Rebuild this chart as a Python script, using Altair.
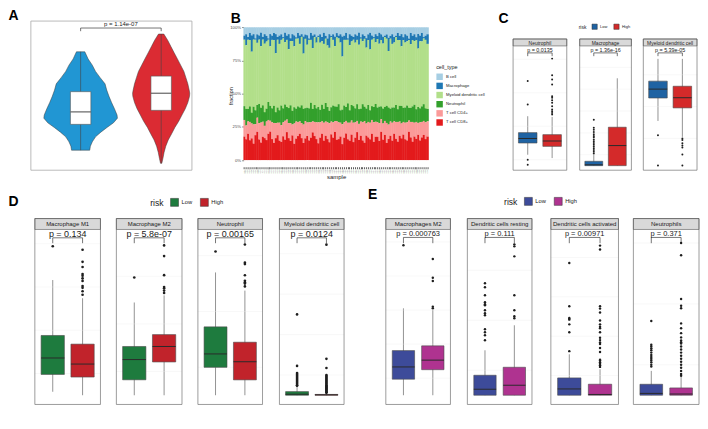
import altair as alt
import pandas as pd

FONT = "Liberation Sans"
RISK = ["Low", "High"]
GRID = "#EBEBEB"
LBL = "#4D4D4D"
INK = "#333333"
FRAME = "#5A5A5A"
ONE = pd.DataFrame({"k": [0]})

# ================= Panel A : ImmuneScore violins =================
A_colors = ["#2196D3", "#DB2B33"]
A_low_y = [2030, 1800, 1600, 1400, 1200, 1000, 800, 600, 400, 200, 0, -100, -250, -400, -550, -700, -860, -1000, -1130]
A_low_hw = [0.052, 0.093, 0.145, 0.185, 0.242, 0.303, 0.324, 0.352, 0.384, 0.42, 0.452, 0.457, 0.408, 0.327, 0.251, 0.185, 0.145, 0.121, 0.113]
A_high_y = [2600, 2400, 2200, 2000, 1800, 1600, 1400, 1200, 1000, 800, 700, 600, 400, 200, 0, -200, -400, -600, -800, -1000, -1200, -1400, -1550]
A_high_hw = [0.033, 0.081, 0.121, 0.161, 0.202, 0.242, 0.282, 0.307, 0.331, 0.348, 0.355, 0.352, 0.331, 0.299, 0.258, 0.218, 0.17, 0.13, 0.088, 0.057, 0.036, 0.021, 0.008]
A_lo = [-1130, -1550]
A_q1 = [-300, 150]
A_med = [100, 700]
A_q3 = [750, 1250]
A_hi = [2030, 2600]
A_ticks = [-1000, 0, 1000, 2000, 3000]
A_p = "p = 1.14e-07"
A_bracket_y = [2793, 2691]
A_p_y = 2861

# ================= Panel B : stacked fractions =================
B_cell_types = ["B cell", "Macrophage", "Myeloid dendritic cell", "Neutrophil", "T cell CD4+", "T cell CD8+"]
B_colors = ["#A6CEE3", "#1F78B4", "#B2DF8A", "#33A02C", "#FB9A99", "#E31A1C"]
B_stack_pos = [5, 4, 3, 2, 1, 0]
B_cd8 = [17,15,19,14,16,12,18,20,15,13,17,16,14,19,21,15,12,16,18,14,
         13,17,15,20,16,14,18,12,15,17,19,16,13,15,18,14,16,20,17,15,
         12,16,19,14,17,15,13,18,16,21,14,15,17,12,16,19,15,14,18,13,
         16,20,15,17,14,12,18,16,15,19,13,17,16,14,20,15,18,12,16,17,
         14,19,15,13,17,16,18,15,14,20,16,13,17,15,19,14,16,18,15,17]
B_cd4 = [12,10,9,13,11,14,8,10,12,15,11,9,13,10,8,12,14,11,9,13,
         12,10,14,9,11,13,8,15,12,10,9,11,14,12,10,13,11,8,10,12,
         15,11,9,13,10,12,14,9,11,8,13,12,10,15,11,9,12,13,10,14,
         11,8,12,10,13,15,9,11,12,10,14,11,10,13,9,12,10,14,11,10,
         13,9,12,14,10,11,9,12,13,8,11,14,10,12,9,13,11,10,12,11]
B_neut = [10,12,9,11,8,13,10,9,14,11,12,10,9,13,11,10,12,8,11,9,
          14,10,12,9,11,13,10,12,9,11,10,13,12,9,11,10,14,9,12,10,
          11,9,12,10,13,11,9,10,12,11,10,13,9,11,12,10,14,9,11,12,
          10,12,11,9,13,10,11,12,9,10,11,13,10,12,9,11,10,12,13,9,
          11,10,12,9,11,13,10,11,12,9,10,11,13,9,12,10,11,12,10,9]
B_mdc = [48,46,50,47,45,49,51,44,47,46,48,50,47,45,44,49,46,43,49,48,
         47,50,46,48,43,47,51,45,49,48,46,50,42,48,47,49,45,44,48,47,
         50,48,46,47,45,44,46,49,47,45,48,47,49,40,47,48,46,47,45,48,
         47,46,48,49,45,47,45,46,44,48,49,45,47,46,47,48,50,47,43,49,
         46,47,48,49,46,44,48,47,46,48,45,47,46,49,44,48,46,47,49,47]
B_macro = [3,8,2,5,12,4,1,6,3,10,2,7,4,1,9,3,5,14,2,6,
           4,1,7,3,11,2,5,8,1,4,6,2,13,3,7,1,5,9,2,4,
           1,6,3,8,2,5,10,1,4,7,3,2,6,15,3,5,1,8,4,2,
           6,3,9,1,5,2,7,4,12,3,1,6,2,8,4,5,1,3,10,2,
           7,4,1,5,3,9,2,6,4,1,8,3,5,2,11,4,6,1,3,7]
B_bcell = [6,5,7,4,6,5,8,5,6,4,7,5,6,8,5,6,4,5,7,6,
           5,7,4,6,5,8,5,6,7,4,6,5,7,5,6,8,4,6,5,7,
           6,5,7,4,6,8,5,6,5,7,4,6,5,7,6,4,8,5,6,7,
           5,6,4,7,5,6,8,5,4,6,7,5,6,4,5,7,6,5,8,6,
           5,7,6,4,6,5,7,5,6,8,4,6,5,7,5,6,4,7,6,5]
B_samples = [f"S{i:03d}" for i in range(1, len(B_cd8) + 1)]

# ================= Panel C : TIMER =================
C_colors = ["#1F63A3", "#D42A2A"]
C_names = ["Neutrophil", "Macrophage", "Myeloid dendritic cell"]
C_low = [[0.065, 0.100, 0.1135, 0.131, 0.180], [0.0, 0.0, 0.002, 0.010, 0.025], [0.405, 0.477, 0.505, 0.530, 0.600]]
C_high = [[0.055, 0.090, 0.106, 0.125, 0.178], [0.0, 0.0, 0.046, 0.088, 0.200], [0.355, 0.446, 0.478, 0.514, 0.600]]
C_low_out = [[0.285, 0.215, 0.050, 0.035],
             [0.105, 0.087, 0.082, 0.077, 0.072, 0.068, 0.065, 0.060, 0.056, 0.052, 0.048, 0.044, 0.040, 0.036, 0.032, 0.028],
             [0.360, 0.265]]
C_high_out = [[0.352, 0.302, 0.290, 0.275, 0.240, 0.235, 0.228, 0.220, 0.210, 0.200, 0.195, 0.190, 0.185],
              [],
              [0.350, 0.345, 0.335, 0.328, 0.322, 0.300, 0.265]]
C_p = ["p = 0.0135", "p = 1.36e-16", "p = 5.39e-05"]
C_ticks = [[0.1, 0.2, 0.3], [0.0, 0.05, 0.10, 0.15, 0.20], [0.3, 0.4, 0.5, 0.6]]
C_fmt = [".1f", ".2f", ".1f"]
C_range = [[0.0188, 0.3899], [-0.0104, 0.274], [0.2503, 0.6406]]

# ================= Panel D : quanTIseq =================
D_colors = ["#1E7B3E", "#C1232B"]
D_names = ["Macrophage M1", "Macrophage M2", "Neutrophil", "Myeloid dendritic cell"]
D_low = [[0.02, 0.12, 0.215, 0.345, 0.665], [0.0, 0.065, 0.15, 0.205, 0.39], [0.0, 0.10, 0.148, 0.245, 0.44], [0.0, 0.0, 0.005, 0.018, 0.045]]
D_high = [[0.0, 0.105, 0.18, 0.295, 0.56], [0.0, 0.14, 0.205, 0.255, 0.42], [0.0, 0.055, 0.12, 0.19, 0.375], [0.0, 0.0, 0.002, 0.004, 0.010]]
D_low_out = [[0.86], [0.495], [0.515],
             [0.40, 0.145, 0.11, 0.105, 0.10, 0.095, 0.09, 0.085, 0.08, 0.075, 0.07, 0.065, 0.06, 0.055, 0.05, 0.047]]
D_high_out = [[0.84, 0.77, 0.74, 0.70, 0.69, 0.675, 0.66, 0.63, 0.62, 0.60, 0.58],
              [0.63, 0.585, 0.505, 0.455, 0.45, 0.44, 0.43],
              [0.54, 0.475, 0.47, 0.43, 0.41, 0.405, 0.40, 0.39],
              [0.745, 0.18, 0.135, 0.10, 0.095, 0.09, 0.085, 0.08, 0.075, 0.07, 0.065, 0.06, 0.055, 0.05, 0.045, 0.04, 0.035, 0.03, 0.025, 0.02, 0.015, 0.012]]
D_p = ["p = 0.134", "p = 5.8e-07", "p = 0.00165", "p = 0.0124"]
D_ticks = [[0, 0.25, 0.5, 0.75], [0, 0.2, 0.4, 0.6], [0, 0.2, 0.4], [0, 0.2, 0.4, 0.6, 0.8]]
D_fmt = [".2f", ".1f", ".1f", ".1f"]
D_range = [[-0.0533, 0.957], [-0.0387, 0.697], [-0.0331, 0.594], [-0.0456, 0.820]]

# ================= Panel E : CIBERSORT =================
E_colors = ["#3D4B9A", "#AF3390"]
E_names = ["Macrophages M2", "Dendritic cells resting", "Dendritic cells activated", "Neutrophils"]
E_low = [[0.0, 0.047, 0.083, 0.131, 0.255], [0.0, 0.0, 0.006, 0.020, 0.045], [0.0, 0.0, 0.008, 0.022, 0.052], [0.0, 0.0, 0.003, 0.018, 0.040]]
E_high = [[0.0, 0.075, 0.103, 0.145, 0.250], [0.0, 0.0, 0.010, 0.028, 0.070], [0.0, 0.0, 0.001, 0.014, 0.033], [0.0, 0.0, 0.002, 0.012, 0.030]]
E_low_out = [[0.44],
             [0.112, 0.108, 0.100, 0.093, 0.091, 0.090, 0.085, 0.082, 0.080, 0.066, 0.063, 0.060, 0.055],
             [0.168, 0.113, 0.098, 0.097, 0.096, 0.090, 0.080, 0.056],
             [0.122, 0.083, 0.080, 0.077, 0.074, 0.070, 0.066, 0.063, 0.060, 0.057, 0.054, 0.050, 0.047]]
E_high_out = [[0.40, 0.345, 0.335, 0.26, 0.255],
              [0.151, 0.149, 0.139, 0.100, 0.085, 0.079, 0.077],
              [0.190, 0.185, 0.113, 0.110, 0.105, 0.095, 0.090, 0.087, 0.085, 0.080, 0.073, 0.070, 0.067, 0.065, 0.060, 0.055, 0.045, 0.044, 0.042, 0.040, 0.038, 0.036],
              [0.25, 0.23, 0.158, 0.147, 0.143, 0.118, 0.110, 0.102, 0.095, 0.090, 0.087, 0.085, 0.080, 0.075, 0.070, 0.065, 0.060, 0.055, 0.050, 0.045, 0.040, 0.035, 0.032]]
E_p = ["p = 0.000763", "p = 0.111", "p = 0.00971", "p = 0.371"]
E_ticks = [[0, 0.1, 0.2, 0.3, 0.4], [0, 0.05, 0.10, 0.15], [0, 0.05, 0.10, 0.15, 0.20], [0, 0.1, 0.2]]
E_fmt = [".1f", ".2f", ".2f", ".1f"]
E_range = [[-0.0271, 0.4865], [-0.00923, 0.1659], [-0.0117, 0.2105], [-0.01516, 0.2723]]


# ---------------- helpers ----------------
def deco_rect(x0, x1, y0, y1, **kw):
    return alt.Chart(ONE).mark_rect(**kw).encode(
        x=alt.value(x0), x2=alt.value(x1), y=alt.value(y0), y2=alt.value(y1))


def label_text(txt, x, y, **kw):
    return alt.Chart(ONE).mark_text(text=txt, **kw).encode(x=alt.value(x), y=alt.value(y))


def spacer(w, h):
    return alt.Chart(ONE).mark_point(opacity=0).properties(width=w, height=h)


def minor_breaks(ticks, lo, hi):
    step = ticks[1] - ticks[0]
    cands = [ticks[0] - step / 2] + [t + step / 2 for t in ticks]
    return [c for c in cands if lo < c < hi]


def risk_legend(x, y, tfs, lfs, ss, pad):
    return alt.Legend(orient="none", legendX=x, legendY=y, direction="horizontal",
                      title="risk", titleOrient="left", titleFontSize=tfs, titleBaseline="middle",
                      labelFontSize=lfs, symbolType="square", symbolSize=ss,
                      symbolStrokeColor=INK, symbolStrokeWidth=0.5, labelOffset=2.5,
                      columnPadding=pad, titlePadding=pad, labelColor="#1A1A1A", titleColor="#1A1A1A")


def box_panel(name, lo_st, hi_st, lo_out, hi_out, ticks, fmt, rng, ptxt, colors, W, S,
              ytitle=None, legend=None, letter=None):
    H, gap, strip = S["H"], S["gap"], S["strip"]
    vb, vt = rng
    hp = H - gap - strip
    per = (vt - vb) / hp
    ys = alt.Scale(domain=[vb, vt + per * (gap + strip)], nice=False, zero=False)
    xs = alt.Scale(domain=[0.4, 2.6], nice=False, zero=False)
    stats = pd.DataFrame({"risk": RISK, "xi": [1, 2],
                          "lo": [lo_st[0], hi_st[0]], "q1": [lo_st[1], hi_st[1]],
                          "med": [lo_st[2], hi_st[2]], "q3": [lo_st[3], hi_st[3]],
                          "hi": [lo_st[4], hi_st[4]]})
    outs = pd.DataFrame({"xi": [1] * len(lo_out) + [2] * len(hi_out), "v": lo_out + hi_out})
    yax_kw = dict(values=ticks, format=fmt, grid=True, gridColor=GRID, gridWidth=0.7,
                  domain=False, tickSize=S["tick"], tickWidth=0.6, tickColor=INK,
                  labelFontSize=S["yl"], labelColor=LBL, labelPadding=1)
    if ytitle:
        yax = alt.Axis(title=ytitle, titleFontSize=S["tf"], titleX=S["tx"],
                       titleY=gap + strip + hp / 2, **yax_kw)
    else:
        yax = alt.Axis(title=None, **yax_kw)
    xax = alt.Axis(values=[1, 2], labelExpr="datum.value == 1 ? 'Low' : 'High'", title=None,
                   grid=True, gridColor=GRID, gridWidth=0.7, domain=False,
                   tickSize=S["tick"], tickWidth=0.6, tickColor=INK,
                   labelFontSize=S["xl"], labelColor=LBL, labelPadding=1)
    bw = S["bw"]
    whisk = alt.Chart(stats).mark_rule(color="#4A4A4A", strokeWidth=0.6).encode(
        x=alt.X("xi:Q", scale=xs, axis=xax), y=alt.Y("lo:Q", scale=ys, axis=yax), y2="hi:Q")
    minor = alt.Chart(pd.DataFrame({"m": minor_breaks(ticks, vb, vt)})).mark_rule(
        color=GRID, strokeWidth=0.35).encode(
        y=alt.Y("m:Q", scale=ys, axis=None), x=alt.value(0), x2=alt.value(W))
    box = alt.Chart(stats).transform_calculate(
        bl=f"datum.xi - {bw}", br=f"datum.xi + {bw}").mark_rect(
        stroke="#4A4A4A", strokeWidth=0.6).encode(
        x=alt.X("bl:Q", scale=xs, axis=None), x2="br:Q",
        y=alt.Y("q1:Q", scale=ys, axis=None), y2="q3:Q",
        color=alt.Color("risk:N", scale=alt.Scale(domain=RISK, range=colors), legend=legend))
    med = alt.Chart(stats).transform_calculate(
        bl=f"datum.xi - {bw}", br=f"datum.xi + {bw}").mark_rule(
        color="#2A2A2A", strokeWidth=1.0).encode(
        x=alt.X("bl:Q", scale=xs, axis=None), x2="br:Q", y=alt.Y("med:Q", scale=ys, axis=None))
    pts = alt.Chart(outs).mark_circle(color="#1E1E1E", size=S["osize"], opacity=1).encode(
        x=alt.X("xi:Q", scale=xs, axis=None), y=alt.Y("v:Q", scale=ys, axis=None))
    yl = vt - S["br"][0] * per
    yg = vt - S["br"][1] * per
    yt = vt - S["br"][2] * per
    brdf = pd.DataFrame({"x": [1, 1, 2], "x2": [2, 1, 2], "y": [yl, yl, yl], "y2": [yl, yg, yg]})
    bracket = alt.Chart(brdf).mark_rule(color="#1A1A1A", strokeWidth=0.6).encode(
        x=alt.X("x:Q", scale=xs, axis=None), x2="x2:Q",
        y=alt.Y("y:Q", scale=ys, axis=None), y2="y2:Q")
    pdf = pd.DataFrame({"x": [1.5], "y": [yt], "t": [ptxt]})
    ptext = alt.Chart(pdf).mark_text(fontSize=S["pf"], baseline="alphabetic", color="#1A1A1A").encode(
        x=alt.X("x:Q", scale=xs, axis=None), y=alt.Y("y:Q", scale=ys, axis=None), text="t:N")
    layers = [whisk, minor, box, med, pts]
    if gap > 0:
        layers.append(deco_rect(-1, W + 1, -1, gap, fill="white"))
    layers += [
        deco_rect(0, W, gap, gap + strip, fill="#D9D9D9", stroke=FRAME, strokeWidth=0.6),
        label_text(name, W / 2, gap + strip / 2 + 0.3, fontSize=S["sf"], baseline="middle", color="#1A1A1A"),
        deco_rect(0, W, gap, H, fillOpacity=0, stroke=FRAME, strokeWidth=0.6),
        bracket, ptext,
    ]
    if letter:
        layers.append(label_text(letter[0], letter[1], letter[2], fontSize=14, fontWeight="bold",
                                 align="left", baseline="top", color="black"))
    return alt.layer(*layers).properties(width=W, height=H)


# ---------------- Panel A ----------------
WA, H1 = 162, 150
a_xs = alt.Scale(domain=[0.382, 2.382], nice=False, zero=False)
a_ys = alt.Scale(domain=[-1772, 3016], nice=False, zero=False)
vio_rows = [{"risk": "Low", "xi": 1, "yv": y, "hw": w} for y, w in zip(A_low_y, A_low_hw)]
vio_rows += [{"risk": "High", "xi": 2, "yv": y, "hw": w} for y, w in zip(A_high_y, A_high_hw)]
vio_df = pd.DataFrame(vio_rows)
a_stats = pd.DataFrame({"risk": RISK, "xi": [1, 2], "lo": A_lo, "q1": A_q1, "med": A_med, "q3": A_q3, "hi": A_hi})
a_yax = alt.Axis(values=A_ticks, format="d", labelExpr="replace(datum.label, '\u2212', '-')",
                 title="ImmuneScore", grid=False, domain=False, tickSize=2, tickWidth=0.6, tickColor=INK,
                 labelFontSize=4.8, labelColor=LBL, labelPadding=1, titleFontSize=6, titleX=-15.7)
a_xax = alt.Axis(values=[1, 2], labelExpr="datum.value == 1 ? 'Low' : 'High'", title="risk",
                 grid=False, domain=False, tickSize=2, tickWidth=0.6, tickColor=INK,
                 labelFontSize=4.8, labelColor=LBL, labelPadding=1, titleFontSize=6, titlePadding=1)
violin = alt.Chart(vio_df).transform_calculate(
    left="datum.xi - datum.hw", right="datum.xi + datum.hw").mark_area(
    orient="horizontal", stroke="#3A3A3A", strokeWidth=0.5, opacity=1).encode(
    y=alt.Y("yv:Q", scale=a_ys, axis=a_yax), x=alt.X("left:Q", scale=a_xs, axis=a_xax), x2="right:Q",
    color=alt.Color("risk:N", scale=alt.Scale(domain=RISK, range=A_colors), legend=None))
a_whisk = alt.Chart(a_stats).mark_rule(color="#444444", strokeWidth=0.6).encode(
    x=alt.X("xi:Q", scale=a_xs, axis=None), y=alt.Y("lo:Q", scale=a_ys, axis=None), y2="hi:Q")
a_box = alt.Chart(a_stats).transform_calculate(bl="datum.xi - 0.127", br="datum.xi + 0.127").mark_rect(
    fill="white", stroke="#555555", strokeWidth=0.6).encode(
    x=alt.X("bl:Q", scale=a_xs, axis=None), x2="br:Q", y=alt.Y("q1:Q", scale=a_ys, axis=None), y2="q3:Q")
a_med = alt.Chart(a_stats).transform_calculate(bl="datum.xi - 0.127", br="datum.xi + 0.127").mark_rule(
    color="#555555", strokeWidth=1.1).encode(
    x=alt.X("bl:Q", scale=a_xs, axis=None), x2="br:Q", y=alt.Y("med:Q", scale=a_ys, axis=None))
a_brdf = pd.DataFrame({"x": [1, 1, 2], "x2": [2, 1, 2],
                       "y": [A_bracket_y[0]] * 3, "y2": [A_bracket_y[0], A_bracket_y[1], A_bracket_y[1]]})
a_bracket = alt.Chart(a_brdf).mark_rule(color="#1A1A1A", strokeWidth=0.6).encode(
    x=alt.X("x:Q", scale=a_xs, axis=None), x2="x2:Q", y=alt.Y("y:Q", scale=a_ys, axis=None), y2="y2:Q")
a_ptext = alt.Chart(pd.DataFrame({"x": [1.5], "y": [A_p_y], "t": [A_p]})).mark_text(
    fontSize=6, baseline="alphabetic", color="#1A1A1A").encode(
    x=alt.X("x:Q", scale=a_xs, axis=None), y=alt.Y("y:Q", scale=a_ys, axis=None), text="t:N")
panelA = alt.layer(
    violin, a_whisk, a_box, a_med, a_bracket, a_ptext,
    deco_rect(0, WA, 0, H1, fillOpacity=0, stroke="#A8A8A8", strokeWidth=0.8),
    label_text("A", -22.6, -12, fontSize=14, fontWeight="bold", align="left", baseline="top", color="black"),
).properties(width=WA, height=H1)

# ---------------- Panel B ----------------
WB = 186
b_rows = []
series = [B_bcell, B_macro, B_mdc, B_neut, B_cd4, B_cd8]
for i, s in enumerate(B_samples):
    for ct, pos, vals in zip(B_cell_types, B_stack_pos, series):
        b_rows.append({"sample": s, "cell_type": ct, "pct": vals[i], "pos": pos})
b_df = pd.DataFrame(b_rows)
b_bars = alt.Chart(b_df).mark_bar(width={"band": 1.25}).encode(
    x=alt.X("sample:N", sort=None, scale=alt.Scale(paddingInner=0, paddingOuter=0),
            axis=alt.Axis(title="sample", labelFontSize=1.6, labelAngle=270, labelOverlap=False,
                          labelColor="#707070", labelPadding=0.5, tickSize=2, tickWidth=0.8,
                          tickColor="#333333", domain=False, offset=-3.5, titleFontSize=6,
                          titlePadding=0.5)),
    y=alt.Y("pct:Q", stack="normalize", scale=alt.Scale(domain=[-0.0764, 1.047], nice=False, zero=False),
            axis=alt.Axis(values=[0, 0.25, 0.5, 0.75, 1.0], format=".2f", title="fraction",
                          labelFontSize=4.3, labelColor=LBL, labelPadding=1, tickSize=2, tickWidth=0.6,
                          tickColor=INK, domain=False, grid=False, titleFontSize=5.5, titleX=-9.8)),
    color=alt.Color("cell_type:N", scale=alt.Scale(domain=B_cell_types, range=B_colors),
                    legend=alt.Legend(orient="none", legendX=193.6, legendY=44, title="cell_type",
                                      titleFontSize=5.5, labelFontSize=4.2, symbolType="square",
                                      symbolSize=42, symbolStrokeWidth=0, rowPadding=2.2, labelOffset=3,
                                      titlePadding=3, labelLimit=200, titleColor="#1A1A1A",
                                      labelColor="#1A1A1A")),
    order=alt.Order("pos:Q", sort="ascending"),
)
panelB = alt.layer(
    b_bars,
    label_text("B", -13, -9, fontSize=14, fontWeight="bold", align="left", baseline="top", color="black"),
).properties(width=WB, height=H1)

# ---------------- Panels C, D, E ----------------
H2 = 187
C_S = dict(H=150, gap=18, strip=7, yl=4.3, xl=4.3, sf=5, pf=5.4, tf=5, tx=-8.2, tick=2, osize=4, br=(7, 10.3, 6), bw=0.38)
D_S = dict(H=H2, gap=0, strip=11, yl=6, xl=7, sf=6, pf=9, tf=8.2, tx=-17.5, tick=2.5, osize=7, br=(8.4, 13.8, 7.3), bw=0.39)
E_S = dict(H=H2, gap=0, strip=11, yl=6.3, xl=6, sf=6.1, pf=7.5, tf=7.4, tx=-15.7, tick=2.5, osize=6, br=(8, 13.8, 6.8), bw=0.38)
C_W = [54, 52, 54]
D_W = [66, 66, 65, 65]
E_W = [65, 65, 68, 66]

C_panels = []
for i in range(3):
    C_panels.append(box_panel(
        C_names[i], C_low[i], C_high[i], C_low_out[i], C_high_out[i], C_ticks[i], C_fmt[i], C_range[i],
        C_p[i], C_colors, C_W[i], C_S,
        ytitle="timer_fraction" if i == 0 else None,
        legend=risk_legend(-1, 2.5, 5, 4, 28, 5) if i == 1 else None,
        letter=("C", -14.7, -9.2) if i == 0 else None))

D_panels = []
for i in range(4):
    D_panels.append(box_panel(
        D_names[i], D_low[i], D_high[i], D_low_out[i], D_high_out[i], D_ticks[i], D_fmt[i], D_range[i],
        D_p[i], D_colors, D_W[i], D_S,
        ytitle="quantiseq_fraction" if i == 0 else None,
        legend=risk_legend(116, -21, 8.6, 5.8, 64, 6) if i == 0 else None,
        letter=("D", -26.5, -23.2) if i == 0 else None))

E_panels = []
for i in range(4):
    E_panels.append(box_panel(
        E_names[i], E_low[i], E_high[i], E_low_out[i], E_high_out[i], E_ticks[i], E_fmt[i], E_range[i],
        E_p[i], E_colors, E_W[i], E_S,
        ytitle="cibersort_fraction" if i == 0 else None,
        legend=risk_legend(118.9, -22, 8.6, 5.8, 64, 6) if i == 0 else None,
        letter=("E", -18, -30.2) if i == 0 else None))

row1 = ([panelA] + [spacer(49.4 / 4, H1) for _ in range(4)] + [panelB]
        + [spacer(80.3 / 5, H1) for _ in range(5)]
        + [C_panels[0], spacer(12.9, H1), C_panels[1], spacer(11.8, H1), C_panels[2]])
row2 = [spacer(3.9, H2), D_panels[0], spacer(15.6, H2), D_panels[1], spacer(15.6, H2), D_panels[2],
        spacer(16.6, H2), D_panels[3], spacer(41.2, H2), E_panels[0], spacer(16.5, H2), E_panels[1],
        spacer(18.6, H2), E_panels[2], spacer(14.6, H2), E_panels[3]]

top_row = alt.hconcat(*row1, spacing=0, bounds="flush").resolve_scale(
    color="independent").resolve_legend(color="independent")
bottom_row = alt.hconcat(*row2, spacing=0, bounds="flush").resolve_scale(
    color="independent").resolve_legend(color="independent")

chart = alt.vconcat(
    top_row, bottom_row, spacing=7.6, padding=0, background="white",
).resolve_scale(color="independent").resolve_legend(color="independent").configure_view(
    stroke=None).configure_axis(labelFont=FONT, titleFont=FONT, titleFontWeight="normal",
                                titleColor="#1A1A1A").configure_legend(
    labelFont=FONT, titleFont=FONT, titleFontWeight="normal").configure_text(font=FONT).configure_title(font=FONT)

chart.save("out.html", embed_options={"renderer": "svg", "actions": False})
